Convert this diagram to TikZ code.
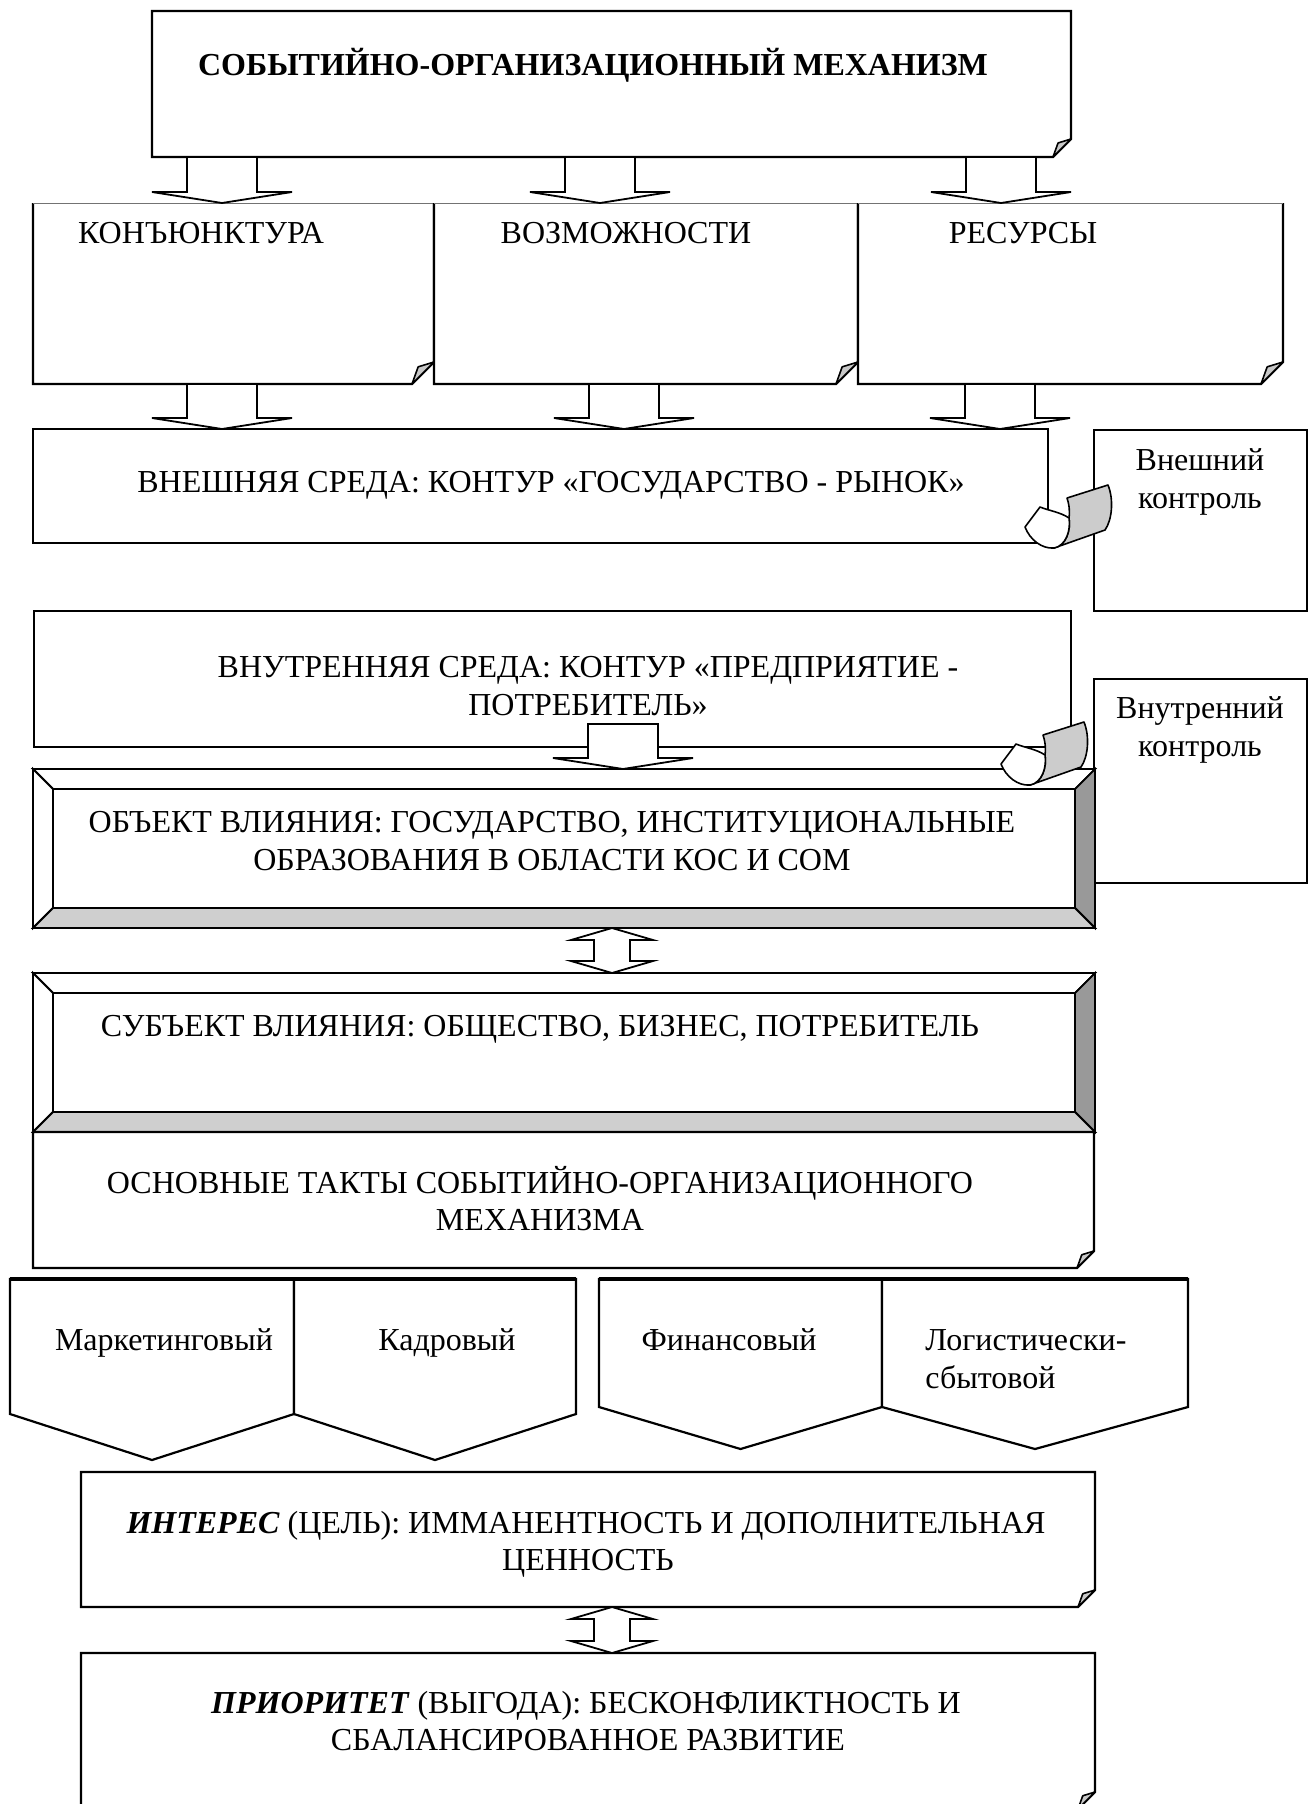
\documentclass[tikz,border=0pt]{standalone}
\usepackage{fontspec}
\setmainfont{Liberation Serif}
\usetikzlibrary{calc,fit}
\definecolor{flapgray}{HTML}{C8C8C8}
\definecolor{curlgray}{HTML}{CCCCCC}
\definecolor{bevdark}{HTML}{999999}
\definecolor{bevlight}{HTML}{CFCFCF}

\tikzset{
  area/.style={inner sep=0pt, outer sep=0pt},
  boxline/.style={draw=black, line width=1.1pt, fill=white, line join=miter},
  thinline/.style={draw=black!55, line width=0.5pt},
  flapst/.style={draw=black, line width=0.8pt, fill=flapgray, line join=round},
  blk/.style={draw=black, line width=0.9pt, fill=white, line join=miter},
  bevst/.style={draw=black, line width=0.9pt, line join=miter},
  txt/.style={anchor=base, inner sep=0pt, font=\fontsize{16}{19}\selectfont},
  txtl/.style={txt, anchor=base west},
}

% box with a folded lower right corner
\newcommand\foldbox[2]{%
  \draw[boxline] (#1.north west) -- (#1.north east) -- ($(#1.south east)+(0,-#2)$) -- ($(#1.south east)+(-#2,0)$) -- (#1.south west) -- cycle;
  \draw[flapst] ($(#1.south east)+(0,-#2)$) -- ($(#1.south east)+(-0.72*#2,-0.78*#2)$) -- ($(#1.south east)+(-#2,0)$) -- cycle;
}
% same, with a thin top edge
\newcommand\foldboxthin[2]{%
  \fill[white] (#1.north west) rectangle (#1.south east);
  \draw[boxline] (#1.north east) -- ($(#1.south east)+(0,-#2)$) -- ($(#1.south east)+(-#2,0)$) -- (#1.south west) -- (#1.north west);
  \draw[thinline] (#1.north west) -- (#1.north east);
  \draw[flapst] ($(#1.south east)+(0,-#2)$) -- ($(#1.south east)+(-0.72*#2,-0.78*#2)$) -- ($(#1.south east)+(-#2,0)$) -- cycle;
}
% bevelled box
\newcommand\bevelbox[2]{%
  \draw[bevst, fill=white] (#1.north west) -- (#1.north east) -- ($(#1.north east)+(-#2,#2)$) -- ($(#1.north west)+(#2,#2)$) -- cycle;
  \draw[bevst, fill=white] (#1.north west) -- ($(#1.north west)+(#2,#2)$) -- ($(#1.south west)+(#2,-#2)$) -- (#1.south west) -- cycle;
  \draw[bevst, fill=bevdark] (#1.north east) -- (#1.south east) -- ($(#1.south east)+(-#2,-#2)$) -- ($(#1.north east)+(-#2,#2)$) -- cycle;
  \draw[bevst, fill=bevlight] (#1.south west) -- (#1.south east) -- ($(#1.south east)+(-#2,-#2)$) -- ($(#1.south west)+(#2,-#2)$) -- cycle;
  \draw[bevst, fill=white] ($(#1.north west)+(#2,#2)$) rectangle ($(#1.south east)+(-#2,-#2)$);
}
% block arrow pointing down: #1 x centre (px), #2 start, #3 end
\newcommand\blkdown[3]{%
  \path[blk] let \p1=(#2), \p2=(#3), \n1={#1*0.5pt} in
    (\n1-17.5pt,\y1) -- (\n1-17.5pt,\y2+5.5pt) -- (\n1-35pt,\y2+5.5pt) -- (\n1,\y2)
    -- (\n1+35pt,\y2+5.5pt) -- (\n1+17.5pt,\y2+5.5pt) -- (\n1+17.5pt,\y1) -- cycle;
}
% double block arrow (vertical)
\newcommand\blkdouble[3]{%
  \path[blk] let \p1=(#2), \p2=(#3), \n1={#1*0.5pt} in
    (\n1,\y1) -- (\n1+20.5pt,\y1-6pt) -- (\n1+9pt,\y1-6pt) -- (\n1+9pt,\y2+6pt)
    -- (\n1+20.5pt,\y2+6pt) -- (\n1,\y2) -- (\n1-20.5pt,\y2+6pt) -- (\n1-9pt,\y2+6pt)
    -- (\n1-9pt,\y1-6pt) -- (\n1-20.5pt,\y1-6pt) -- cycle;
}
% curled paper
\newcommand\papercurl[1]{%
  \begin{scope}[shift={#1}]
    \draw[flapst, fill=curlgray] (1067,498) -- (1108,485) .. controls (1114,500) and (1112,520) .. (1105,530)
      -- (1054,548) .. controls (1066,546) and (1071,530) .. (1069,518) .. controls (1070,510) and (1069,504) .. (1067,498) -- cycle;
    \draw[flapst, fill=white] (1040,507) -- (1025,527) .. controls (1030,540) and (1042,549) .. (1054,548)
      .. controls (1066,546) and (1071,530) .. (1069,518) .. controls (1060,512) and (1050,511) .. (1040,507) -- cycle;
  \end{scope}
}
% downward pentagon
\newcommand\pentdown[2]{%
  \draw[boxline] (#1.north west) -- (#1.north east) -- (#1.south east) -- ($(#1.south)+(0,#2)$) -- (#1.south west) -- cycle;
  \draw[line width=1.6pt] (#1.north west) -- (#1.north east);
}

\begin{document}
\begin{tikzpicture}[x=0.5pt,y=-0.5pt]
\useasboundingbox (0,0) rectangle (1309,1804);
\clip (0,0) rectangle (1309,1804);
\fill[white] (0,0) rectangle (1309,1804);

% areas
\node[area, fit={(152,11)(1071,157)}] (top) {};
\node[area, fit={(33,203)(434,384)}] (k1) {};
\node[area, fit={(434,203)(858,384)}] (k2) {};
\node[area, fit={(858,203)(1283,384)}] (k3) {};
\node[area, fit={(33,429)(1048,543)}] (vn) {};
\node[area, fit={(1094,430)(1307,611)}] (vkon) {};
\node[area, fit={(34,611)(1071,747)}] (vnut) {};
\node[area, fit={(1094,679)(1307,883)}] (ikon) {};
\node[area, fit={(33,769)(1095,928)}] (obj) {};
\node[area, fit={(33,973)(1095,1132)}] (subj) {};
\node[area, fit={(33,1132)(1094,1268)}] (takt) {};
\node[area, fit={(10,1279)(294,1414)}] (p1) {};
\node[area, fit={(294,1279)(576,1414)}] (p2) {};
\node[area, fit={(599,1279)(882,1407)}] (p3) {};
\node[area, fit={(882,1279)(1188,1407)}] (p4) {};
\node[area, fit={(81,1472)(1095,1607)}] (intr) {};
\node[area, fit={(81,1653)(1095,1809)}] (prio) {};

% top part
\foldbox{top}{18}
\foldboxthin{k1}{22}
\foldboxthin{k2}{22}
\foldboxthin{k3}{22}
\blkdown{222}{top.south}{k1.north}
\blkdown{600}{top.south}{k2.north}
\blkdown{1001}{top.south}{k3.north}

\draw[boxline] (vn.north west) rectangle (vn.south east);
\blkdown{222}{k1.south}{vn.north}
\blkdown{624}{k2.south}{vn.north}
\blkdown{1000}{k3.south}{vn.north}

\draw[boxline] (vkon.north west) rectangle (vkon.south east);
\papercurl{(0,0)}

\draw[boxline] (vnut.north west) rectangle (vnut.south east);
\draw[boxline] (ikon.north west) rectangle (ikon.south east);
\bevelbox{obj}{20}
\blkdown{623}{$(vnut.south)+(0,-23)$}{obj.north}
\papercurl{(-24,237)}

\bevelbox{subj}{20}
\blkdouble{612}{obj.south}{subj.north}
\foldbox{takt}{17}

\pentdown{p1}{46}
\pentdown{p2}{46}
\pentdown{p3}{42}
\pentdown{p4}{42}

\foldbox{intr}{17}
\foldbox{prio}{17}
\blkdouble{612}{intr.south}{prio.north}

% texts
\node[txt, font=\fontsize{16}{19}\selectfont\bfseries] (t-title) at (593,75) {СОБЫТИЙНО-ОРГАНИЗАЦИОННЫЙ МЕХАНИЗМ};
\node[txt] (t-k1) at (201,243) {КОНЪЮНКТУРА};
\node[txt] (t-k2) at (626,243) {ВОЗМОЖНОСТИ};
\node[txt] (t-k3) at (1023,243) {РЕСУРСЫ};
\node[txt] (t-vn) at (551,492) {ВНЕШНЯЯ СРЕДА: КОНТУР «ГОСУДАРСТВО - РЫНОК»};
\node[txt] (t-vk1) at (1200,470) {Внешний};
\node[txt] (t-vk2) at (1200,508) {контроль};
\node[txt] (t-vt1) at (588,677) {ВНУТРЕННЯЯ СРЕДА: КОНТУР «ПРЕДПРИЯТИЕ -};
\node[txt] (t-vt2) at (588,715) {ПОТРЕБИТЕЛЬ»};
\node[txt] (t-ik1) at (1200,718) {Внутренний};
\node[txt] (t-ik2) at (1200,756) {контроль};
\node[txt] (t-ob1) at (552,832) {ОБЪЕКТ ВЛИЯНИЯ: ГОСУДАРСТВО, ИНСТИТУЦИОНАЛЬНЫЕ};
\node[txt] (t-ob2) at (552,870) {ОБРАЗОВАНИЯ В ОБЛАСТИ КОС И СОМ};
\node[txt] (t-sb) at (540,1036) {СУБЪЕКТ ВЛИЯНИЯ: ОБЩЕСТВО, БИЗНЕС, ПОТРЕБИТЕЛЬ};
\node[txt] (t-os1) at (540,1193) {ОСНОВНЫЕ ТАКТЫ СОБЫТИЙНО-ОРГАНИЗАЦИОННОГО};
\node[txt] (t-os2) at (540,1230) {МЕХАНИЗМА};
\node[txt] (t-p1) at (164,1350) {Маркетинговый};
\node[txt] (t-p2) at (447,1350) {Кадровый};
\node[txt] (t-p3) at (729,1350) {Финансовый};
\node[txtl] (t-p4a) at (925,1350) {Логистически-};
\node[txtl] (t-p4b) at (925,1388) {сбытовой};
\node[txt] (t-in1) at (586,1533) {\textbf{\textit{ИНТЕРЕС}} (ЦЕЛЬ): ИММАНЕНТНОСТЬ И ДОПОЛНИТЕЛЬНАЯ};
\node[txt] (t-in2) at (588,1570) {ЦЕННОСТЬ};
\node[txt] (t-pr1) at (586,1713) {\textbf{\textit{ПРИОРИТЕТ}} (ВЫГОДА): БЕСКОНФЛИКТНОСТЬ И};
\node[txt] (t-pr2) at (588,1750) {СБАЛАНСИРОВАННОЕ РАЗВИТИЕ};
\end{tikzpicture}
\end{document}
